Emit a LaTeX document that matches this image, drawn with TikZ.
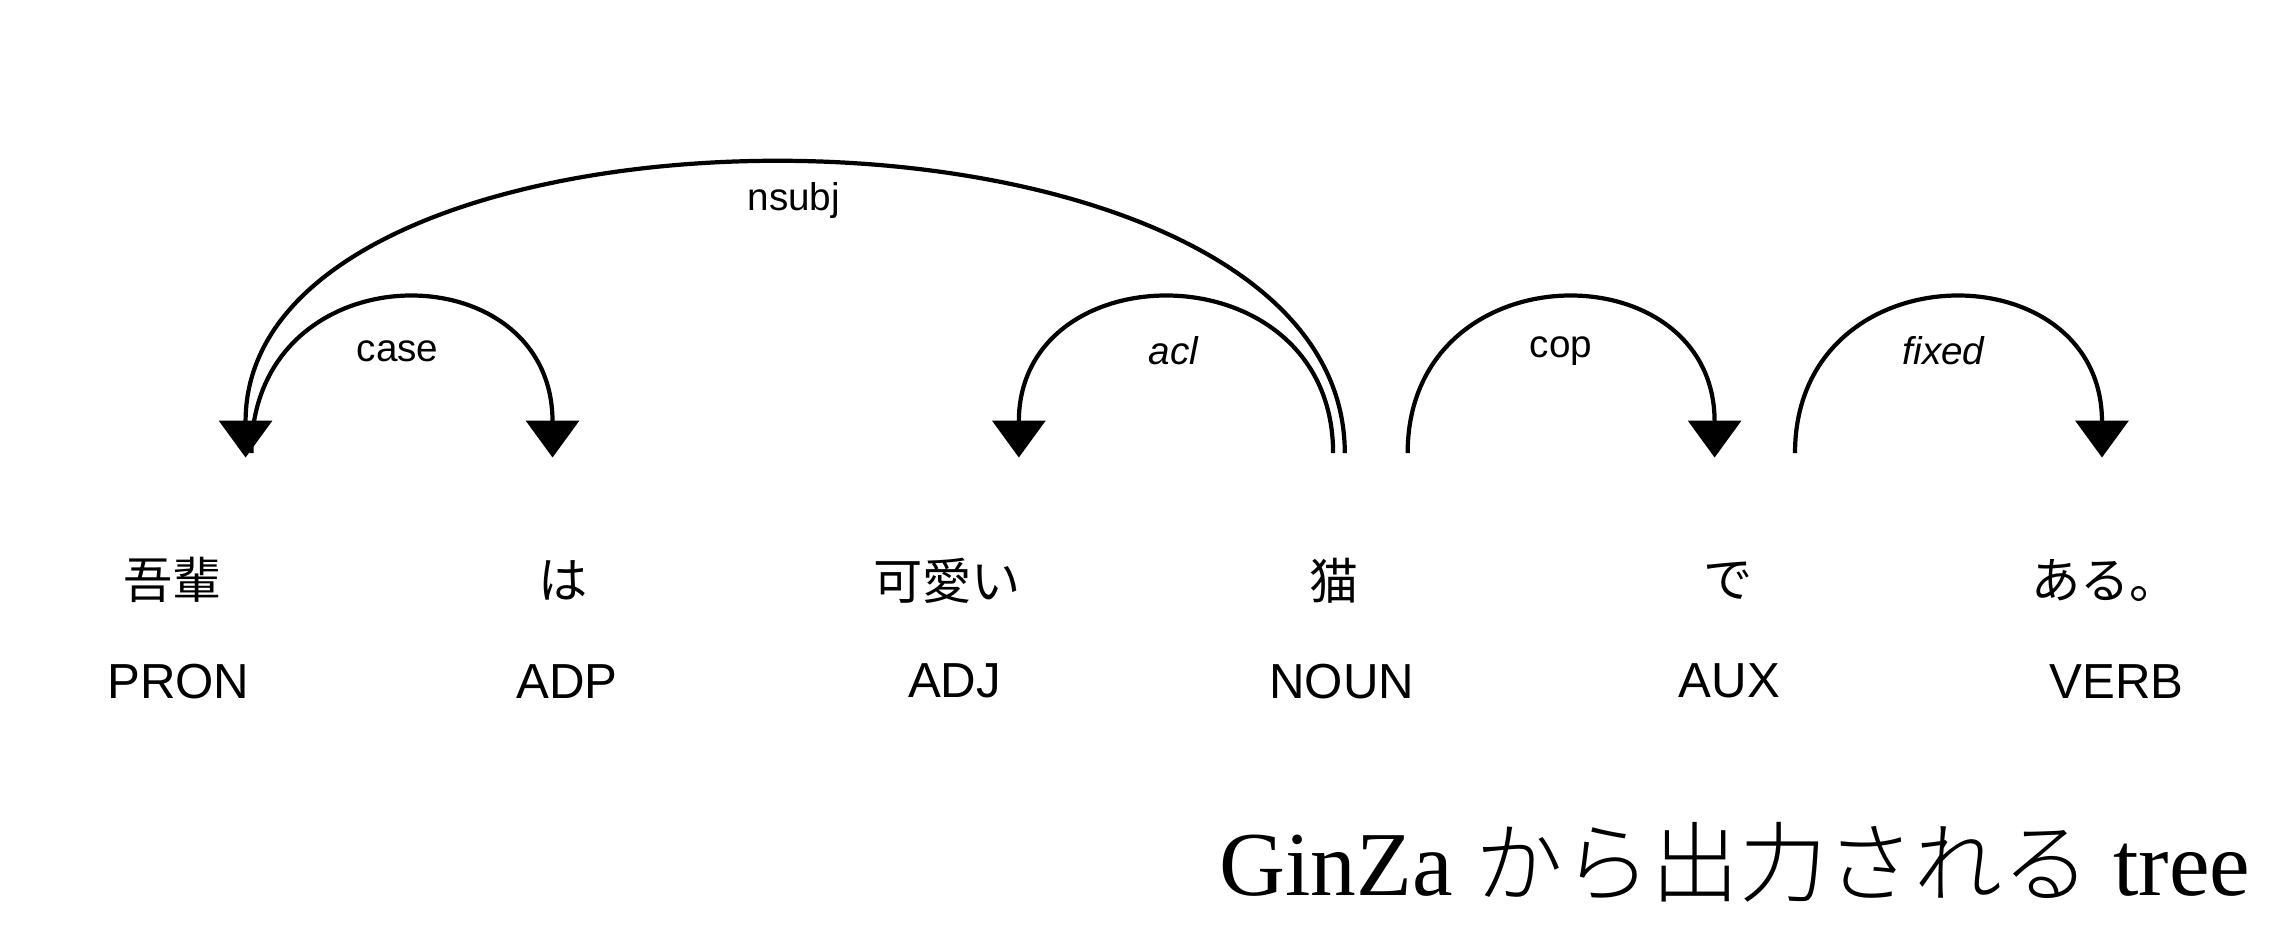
\documentclass[tikz,border=0pt]{standalone}
\usepackage{fontspec}
\setmainfont{Liberation Serif}
\setsansfont{Liberation Sans}
\newfontfamily\cjk{Noto Sans CJK JP}
\newfontfamily\cjklight{Noto Sans CJK JP Light}
\usetikzlibrary{arrows.meta}
\tikzset{
  word/.style={font=\cjk\fontsize{14}{16}\selectfont},
  tag/.style={font=\sffamily\fontsize{14}{16}\selectfont},
  deplabel/.style={font=\sffamily\fontsize{11}{13}\selectfont},
  arc/.style={line width=1.2pt,-{Triangle[width=15pt,length=10.5pt]}}
}
\begin{document}
\begin{tikzpicture}[x=0.01462cm,y=-0.01462cm]
  \useasboundingbox (0,0) rectangle (1568,642);
  % words and tags
  \node[word] (w1) at (118,397) {吾輩};
  \node[word] (w2) at (385,397) {は};
  \node[word] (w3) at (648,397) {可愛い};
  \node[word] (w4) at (913,397) {猫};
  \node[word] (w5) at (1182,397) {で};
  \node[word] (w6) at (1440,397) {ある。};
  \node[tag] (t1) at (122,466) {PRON};
  \node[tag] (t2) at (388,466) {ADP};
  \node[tag] (t3) at (653,466) {ADJ};
  \node[tag] (t4) at (918,466) {NOUN};
  \node[tag] (t5) at (1183,466) {AUX};
  \node[tag] (t6) at (1448,466) {VERB};
  % arc ends
  \coordinate (a1) at (168,313);
  \coordinate (a2) at (378,313);
  \coordinate (a3) at (697,313);
  \coordinate (a5) at (1173,313);
  \coordinate (a6) at (1438,313);
  \coordinate (s1) at (172,310);
  \coordinate (s4) at (912,310);
  \coordinate (n4) at (920,310);
  \coordinate (s5) at (963,310);
  \coordinate (s6) at (1228,310);
  % arcs
  \draw[arc] (s1) .. controls (172,170) and (378,170) .. (a2);
  \draw[arc] (s4) .. controls (912,170) and (697,170) .. (a3);
  \draw[arc] (n4) .. controls (920,47) and (168,47) .. (a1);
  \draw[arc] (s5) .. controls (963,170) and (1173,170) .. (a5);
  \draw[arc] (s6) .. controls (1228,170) and (1438,170) .. (a6);
  % labels
  \node[deplabel] (l1) at (272,240) {case};
  \node[deplabel] (l2) at (803,240) {\textit{acl}};
  \node[deplabel] (l3) at (543,137) {nsubj};
  \node[deplabel] (l4) at (1068,240) {cop};
  \node[deplabel] (l5) at (1330,240) {\textit{fixed}};
  % caption
  \node[anchor=east,font=\fontsize{26}{30}\selectfont] (cap) at (1548,590)
    {GinZa {\cjklight\fontsize{25}{30}\selectfont から出力される} tree};
\end{tikzpicture}
\end{document}
